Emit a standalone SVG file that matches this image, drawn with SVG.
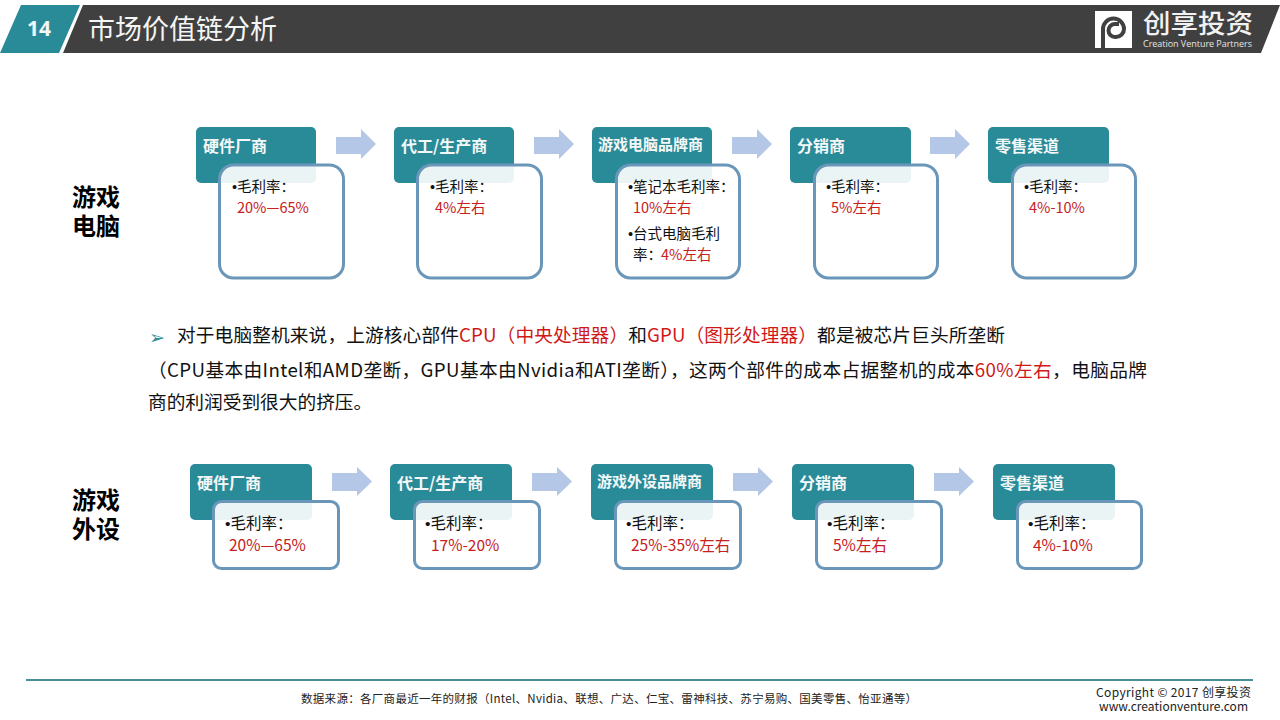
<svg xmlns="http://www.w3.org/2000/svg" width="1280" height="720" viewBox="0 0 1280 720">
<style>
text{font-family:"Noto Sans CJK SC","Noto Sans",sans-serif}
.hd{fill:#2a8b98}
.bx{fill:#fff;fill-opacity:.9;stroke:#6a97b9;stroke-width:3}
.t{fill:#f4f8f8;font-size:16px;font-weight:700}
.t2{fill:#f4f8f8;font-size:15px;font-weight:700}
.k{fill:#111;font-size:14.500px}
.r{fill:#c62020;font-size:14.500px}
.k2{fill:#111;font-size:15.500px}
.r2{fill:#c62020;font-size:15.500px}
.bu{font-family:"Liberation Sans",sans-serif}
.a{fill:#b4c7e7}
.b{fill:#111;font-size:18.700px}
.re{fill:#d01818}
</style>
<rect width="1280" height="720" fill="#fff"/>
<g id="header">
<polygon points="21,5 80,5 59,53 0,53" fill="#2a8b98"/>
<polygon points="83,5 1280,5 1261,53 63,53" fill="#404040"/>
<text x="39" y="36" text-anchor="middle" fill="#f2f7f7" font-size="21" font-weight="700" style="font-family:'Open Sans',sans-serif">14</text>
<text x="88" y="39" fill="#f5f5f5" font-size="27">市场价值链分析</text>
</g>
<g id="logo">
<rect x="1095" y="11" width="37" height="37" fill="#fff"/>
<path d="M1103 48V29a10.500 10.500 0 0 1 21 0a8 8 0 0 1-8 8h-1a6.500 6.500 0 0 1 0-13h4" fill="none" stroke="#404040" stroke-width="4"/>
<text x="1143" y="33" fill="#f2f2f2" font-size="26" font-weight="500" textLength="110" lengthAdjust="spacingAndGlyphs">创享投资</text>
<text x="1143" y="47" fill="#e6e6e6" font-size="9" textLength="109" style="font-family:'Open Sans',sans-serif">Creation Venture Partners</text>
</g>
<g id="row1-label"><text x="96" y="206" text-anchor="middle" font-size="24" font-weight="700" fill="#000">游戏</text><text x="96" y="235" text-anchor="middle" font-size="24" font-weight="700" fill="#000">电脑</text></g>
<g id="row2-label"><text x="96" y="509" text-anchor="middle" font-size="24" font-weight="700" fill="#000">游戏</text><text x="96" y="538" text-anchor="middle" font-size="24" font-weight="700" fill="#000">外设</text></g>
<g id="connectors">
<polygon class="a" points="336,137 361,137 361,129 376,144 361,159 361,154 336,154"/>
<polygon class="a" points="534,137 559,137 559,129 574,144 559,159 559,154 534,154"/>
<polygon class="a" points="732,137 757,137 757,129 772,144 757,159 757,154 732,154"/>
<polygon class="a" points="930,137 955,137 955,129 970,144 955,159 955,154 930,154"/>
<polygon class="a" points="332,473 357,473 357,467 372,481.500 357,496 357,491 332,491"/>
<polygon class="a" points="532,473 557,473 557,467 572,481.500 557,496 557,491 532,491"/>
<polygon class="a" points="733,473 758,473 758,467 773,481.500 758,496 758,491 733,491"/>
<polygon class="a" points="934,473 959,473 959,467 974,481.500 959,496 959,491 934,491"/>
</g>
<g id="n1"><rect class="hd" x="196" y="127" width="120" height="56" rx="5"/><text class="t" x="203" y="152">硬件厂商</text><rect class="bx" x="219.500" y="165" width="124" height="113" rx="14"/><text class="k" x="232" y="192"><tspan class="bu">•</tspan>毛利率：</text><text class="r" x="237" y="213">20%—65%</text></g>
<g id="n2"><rect class="hd" x="394" y="127" width="120" height="56" rx="5"/><text class="t" x="401" y="152">代工/生产商</text><rect class="bx" x="417.500" y="165" width="124" height="113" rx="14"/><text class="k" x="430" y="192"><tspan class="bu">•</tspan>毛利率：</text><text class="r" x="435" y="213">4%左右</text></g>
<g id="n3"><rect class="hd" x="592" y="127" width="120" height="56" rx="5"/><text class="t2" x="598" y="150">游戏电脑品牌商</text><rect class="bx" x="616.500" y="165" width="123" height="113" rx="14"/><text class="k" x="628" y="192"><tspan class="bu">•</tspan>笔记本毛利率：</text><text class="r" x="633" y="213">10%左右</text><text class="k" x="628" y="239"><tspan class="bu">•</tspan>台式电脑毛利</text><text class="k" x="633" y="260">率：</text><text class="r" x="661" y="260">4%左右</text></g>
<g id="n4"><rect class="hd" x="790" y="127" width="121" height="56" rx="5"/><text class="t" x="797" y="152">分销商</text><rect class="bx" x="814.500" y="165" width="123" height="113" rx="14"/><text class="k" x="826" y="192"><tspan class="bu">•</tspan>毛利率：</text><text class="r" x="831" y="213">5%左右</text></g>
<g id="n5"><rect class="hd" x="988" y="127" width="121" height="56" rx="5"/><text class="t" x="995" y="152">零售渠道</text><rect class="bx" x="1012.500" y="165" width="123" height="113" rx="14"/><text class="k" x="1024" y="192"><tspan class="bu">•</tspan>毛利率：</text><text class="r" x="1029" y="213">4%-10%</text></g>
<g id="body">
<text x="149" y="344" fill="#2a8b98" font-size="19" style="font-family:'DejaVu Sans',sans-serif">➢</text>
<text class="b" x="177" y="342" textLength="828">对于电脑整机来说，上游核心部件<tspan class="re">CPU（中央处理器）</tspan>和<tspan class="re">GPU（图形处理器）</tspan>都是被芯片巨头所垄断</text>
<text class="b" x="148" y="377" textLength="999">（CPU基本由Intel和AMD垄断，GPU基本由Nvidia和ATI垄断），这两个部件的成本占据整机的成本<tspan class="re">60%左右</tspan>，电脑品牌</text>
<text class="b" x="148" y="409">商的利润受到很大的挤压。</text>
</g>
<g id="m1"><rect class="hd" x="190" y="464" width="122" height="56" rx="5"/><text class="t" x="197" y="489">硬件厂商</text><rect class="bx" x="213.500" y="501.500" width="125" height="67" rx="8"/><text class="k2" x="225" y="529"><tspan class="bu">•</tspan>毛利率：</text><text class="r2" x="229" y="551">20%—65%</text></g>
<g id="m2"><rect class="hd" x="390" y="464" width="122" height="56" rx="5"/><text class="t" x="397" y="489">代工/生产商</text><rect class="bx" x="414.500" y="501.500" width="125" height="67" rx="8"/><text class="k2" x="425" y="529"><tspan class="bu">•</tspan>毛利率：</text><text class="r2" x="431" y="551">17%-20%</text></g>
<g id="m3"><rect class="hd" x="591" y="464" width="122" height="56" rx="5"/><text class="t2" x="597" y="487">游戏外设品牌商</text><rect class="bx" x="615.500" y="501.500" width="125" height="67" rx="8"/><text class="k2" x="626" y="529"><tspan class="bu">•</tspan>毛利率：</text><text class="r2" x="631" y="551">25%-35%左右</text></g>
<g id="m4"><rect class="hd" x="792" y="464" width="122" height="56" rx="5"/><text class="t" x="799" y="489">分销商</text><rect class="bx" x="816.500" y="501.500" width="125" height="67" rx="8"/><text class="k2" x="827" y="529"><tspan class="bu">•</tspan>毛利率：</text><text class="r2" x="833" y="551">5%左右</text></g>
<g id="m5"><rect class="hd" x="993" y="464" width="122" height="56" rx="5"/><text class="t" x="1000" y="489">零售渠道</text><rect class="bx" x="1017.500" y="501.500" width="124" height="67" rx="8"/><text class="k2" x="1028" y="529"><tspan class="bu">•</tspan>毛利率：</text><text class="r2" x="1033" y="551">4%-10%</text></g>
<g id="footer">
<line x1="26" y1="680" x2="1253" y2="680" stroke="#4a8f96" stroke-width="2"/>
<text x="301" y="703" font-size="11.500" fill="#222" textLength="616">数据来源：各厂商最近一年的财报（Intel、Nvidia、联想、广达、仁宝、雷神科技、苏宁易购、国美零售、怡亚通等）</text>
<text x="1096" y="697" font-size="12" fill="#222" textLength="155">Copyright © 2017 创享投资</text>
<text x="1099" y="711" font-size="12" fill="#222" textLength="149">www.creationventure.com</text>
</g>
</svg>
